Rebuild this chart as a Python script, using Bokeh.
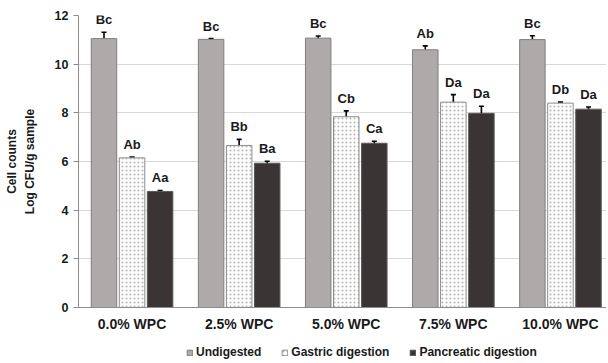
from bokeh.plotting import figure
from bokeh.layouts import column
from bokeh.models import (Range1d, Legend, LegendItem, Whisker, ColumnDataSource,
                          TeeHead, LabelSet, LinearAxis, FixedTicker)
from bokeh.core.properties import value
from bokeh.embed import file_html
from bokeh.resources import INLINE

categories = ["0.0% WPC", "2.5% WPC", "5.0% WPC", "7.5% WPC", "10.0% WPC"]
series_names = ["Undigested", "Gastric digestion", "Pancreatic digestion"]

undigested = [11.05, 11.02, 11.07, 10.59, 11.01]
undigested_err = [0.26, 0.03, 0.09, 0.16, 0.16]
undigested_letters = ["Bc", "Bc", "Bc", "Ab", "Bc"]

gastric = [6.15, 6.66, 7.84, 8.44, 8.40]
gastric_err = [0.03, 0.25, 0.24, 0.31, 0.04]
gastric_letters = ["Ab", "Bb", "Cb", "Da", "Db"]

pancreatic = [4.77, 5.93, 6.75, 7.98, 8.15]
pancreatic_err = [0.04, 0.08, 0.08, 0.29, 0.09]
pancreatic_letters = ["Aa", "Ba", "Ca", "Da", "Da"]

y_ticks = [0, 2, 4, 6, 8, 10, 12]
y_title_lines = ["Cell counts", "Log CFU/g sample"]

FONT = "Liberation Sans"
TXT = "#1a1a1a"
AX = "#8C8C8C"

p = figure(width=606, height=337, output_backend="svg", toolbar_location=None,
           x_range=Range1d(0, 4.93), y_range=Range1d(0, 12),
           min_border_left=78, min_border_right=0, min_border_top=15,
           min_border_bottom=30)
p.outline_line_color = None
p.background_fill_color = "white"
p.border_fill_color = "white"

offsets = [-0.262, 0.0, 0.262]
width = 0.238
styles = [
    dict(fill_color="#ADAAA9", line_color="#7F7F7F"),
    dict(fill_color="white", line_color="#8C8C8C", hatch_pattern="dot",
         hatch_color="#B3B3B3", hatch_scale=4, hatch_weight=0.8),
    dict(fill_color="#3A3534", line_color="#595959"),
]
all_vals = [undigested, gastric, pancreatic]
all_errs = [undigested_err, gastric_err, pancreatic_err]
all_letters = [undigested_letters, gastric_letters, pancreatic_letters]

for k in range(3):
    xs = [i + 0.5 + offsets[k] for i in range(len(categories))]
    vals = all_vals[k]
    errs = all_errs[k]
    src = ColumnDataSource(dict(
        x=xs, top=vals,
        upper=[v + e for v, e in zip(vals, errs)],
        lower=[v - e for v, e in zip(vals, errs)],
        letters=all_letters[k],
    ))
    p.vbar(x="x", top="top", width=width, bottom=0, source=src,
           line_width=1, **styles[k])
    w = Whisker(base="x", upper="upper", lower="lower", source=src,
                line_color="black", line_width=1.6,
                upper_head=TeeHead(size=5, line_width=1.6, line_color="black"),
                lower_head=TeeHead(size=5, line_width=1.6, line_color="black"))
    p.add_layout(w)
    labels = LabelSet(x="x", y="upper", text="letters", source=src,
                      text_align="center", text_baseline="bottom", y_offset=5,
                      text_font=value(FONT), text_font_style="bold",
                      text_font_size="13px", text_color=TXT)
    p.add_layout(labels)

# axes
p.xaxis.ticker = [i + 0.5 for i in range(len(categories))]
p.xaxis.major_label_overrides = {i + 0.5: c for i, c in enumerate(categories)}
p.xaxis.major_tick_line_color = None
p.xaxis.major_tick_out = 0
p.xaxis.minor_tick_line_color = None
p.xaxis.axis_line_color = AX
p.xaxis.major_label_text_font = FONT
p.xaxis.major_label_text_font_style = "bold"
p.xaxis.major_label_text_font_size = "14px"
p.xaxis.major_label_text_color = TXT
p.xaxis.major_label_standoff = 8

p.yaxis.ticker = y_ticks
p.yaxis.minor_tick_line_color = None
p.yaxis.major_tick_out = 5
p.yaxis.major_tick_in = 0
p.yaxis.major_tick_line_color = AX
p.yaxis.axis_line_color = AX
p.yaxis.major_label_text_font = FONT
p.yaxis.major_label_text_font_style = "bold"
p.yaxis.major_label_text_font_size = "12.5px"
p.yaxis.major_label_text_color = TXT
p.yaxis.major_label_standoff = 5
p.yaxis.axis_label = y_title_lines[1]
p.yaxis.axis_label_text_font = FONT
p.yaxis.axis_label_text_font_style = "bold"
p.yaxis.axis_label_text_font_size = "12px"
p.yaxis.axis_label_text_color = TXT
p.yaxis.axis_label_standoff = 15

outer = LinearAxis(ticker=FixedTicker(ticks=[]), axis_line_color=None,
                   major_tick_line_color=None, minor_tick_line_color=None,
                   major_tick_out=0, major_tick_in=0, major_label_standoff=0,
                   major_label_text_font_size="0px",
                   axis_label=y_title_lines[0], axis_label_text_font=FONT,
                   axis_label_text_font_style="bold",
                   axis_label_text_font_size="12px",
                   axis_label_text_color=TXT, axis_label_standoff=1)
p.add_layout(outer, "left")

p.xgrid.grid_line_color = None
p.ygrid.grid_line_color = "#D9D9D9"
p.ygrid.ticker = y_ticks

# legend strip below the chart (legend-only renderers, hidden)
lg = figure(width=606, height=24, output_backend="svg", toolbar_location=None,
            x_range=Range1d(0, 1), y_range=Range1d(0, 1),
            x_axis_location=None, y_axis_location=None,
            min_border_left=0, min_border_right=0, min_border_top=0,
            min_border_bottom=0)
lg.outline_line_color = None
lg.grid.grid_line_color = None
items = []
for k in range(3):
    r = lg.vbar(x=[-5], top=[all_vals[k][0]], width=width, bottom=0,
                line_width=1, visible=False, **styles[k])
    items.append(LegendItem(label=series_names[k], renderers=[r]))
legend = Legend(items=items, orientation="horizontal", location=(108, 2),
                label_text_font=FONT, label_text_font_style="bold",
                label_text_font_size="12px", label_text_color=TXT,
                glyph_width=7, glyph_height=7, label_standoff=3, spacing=20,
                label_height=14, padding=0, margin=0, border_line_color=None,
                background_fill_alpha=0, inactive_fill_alpha=0)
lg.add_layout(legend)

layout = column(p, lg, spacing=0)
open("out.html", "w").write(file_html(layout, INLINE))
